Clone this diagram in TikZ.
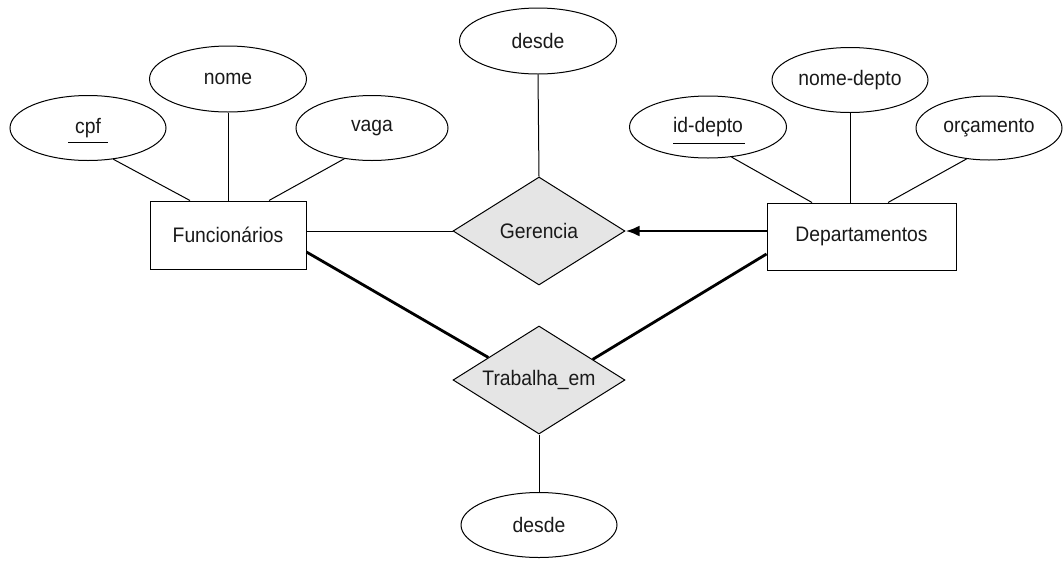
\documentclass[tikz,border=0pt]{standalone}
\usepackage{fontspec}
\setmainfont{Liberation Sans}[FakeStretch=0.92]
\usetikzlibrary{shapes.geometric,arrows.meta}
\begin{document}
\begin{tikzpicture}[x=1pt,y=1pt,
  every node/.style={font=\fontsize{21}{25}\selectfont, text=black!90},
  attr/.style={draw, ellipse, line width=1pt, inner sep=0pt},
  entity/.style={draw, rectangle, line width=1pt, inner sep=0pt},
  rel/.style={draw, diamond, aspect=1.6, fill=gray!20, line width=1pt, inner sep=0pt, minimum width=172pt, minimum height=108pt},
  thin/.style={line width=1pt},
  thick2/.style={line width=2.8pt}]
\useasboundingbox (0,0) rectangle (1063,-560);
% attributes
\node[attr, minimum width=156pt, minimum height=65pt] (cpf) at (88,-128) {cpf};
\node[attr, minimum width=157pt, minimum height=66pt] (nome) at (228,-79) {nome};
\node[attr, minimum width=152pt, minimum height=65pt] (vaga) at (372,-128) {vaga};
\node[attr, minimum width=157pt, minimum height=66pt] (desdeA) at (538,-41) {desde};
\node[attr, minimum width=157pt, minimum height=62pt] (iddepto) at (708,-127) {id-depto};
\node[attr, minimum width=156pt, minimum height=65pt] (nomedepto) at (850,-80) {nome-depto};
\node[attr, minimum width=146pt, minimum height=64pt] (orcamento) at (989,-128) {orçamento};
\node[attr, minimum width=156pt, minimum height=65pt] (desdeB) at (539,-525) {desde};
% entities
\node[entity, minimum width=156pt, minimum height=68pt] (func) at (228,-235) {Funcionários};
\node[entity, minimum width=189pt, minimum height=67pt] (dept) at (861.5,-236.5) {Departamentos};
% relationships
\node[rel] (ger) at (539,-231) {Gerencia};
\node[rel] (trab) at (539,-380) {Trabalha\_em};
% key underlines
\draw[thin] ([shift={(-20pt,-14pt)}]cpf.center) -- ++(40pt,0);
\draw[thin] ([shift={(-35pt,-16pt)}]iddepto.center) -- ++(72pt,0);
% attribute links
\draw[thin] (cpf.-51) -- ([xshift=-38pt]func.north);
\draw[thin] (nome.south) -- (nome.south |- func.north);
\draw[thin] (vaga.-132) -- ([xshift=41pt]func.north);
\draw[thin] (iddepto.-52) -- ([xshift=-49.5pt]dept.north);
\draw[thin] (nomedepto.south) -- (nomedepto.south |- dept.north);
\draw[thin] (orcamento.-126) -- ([xshift=26.5pt]dept.north);
\draw[thin] (desdeA.south) -- (ger.north);
\draw[thin] (trab.south) -- (desdeB.north);
% relationship links
\draw[thin] (ger.west -| func.east) -- (ger.west);
\draw[thick2, -{Latex[length=14pt,width=11pt]}] (ger.east -| dept.west) -- (ger.east);
\draw[thick2] ([yshift=-17pt]func.east) -- (trab.156);
\draw[thick2] ([yshift=-17.5pt]dept.west) -- (trab.21);
\end{tikzpicture}
\end{document}
